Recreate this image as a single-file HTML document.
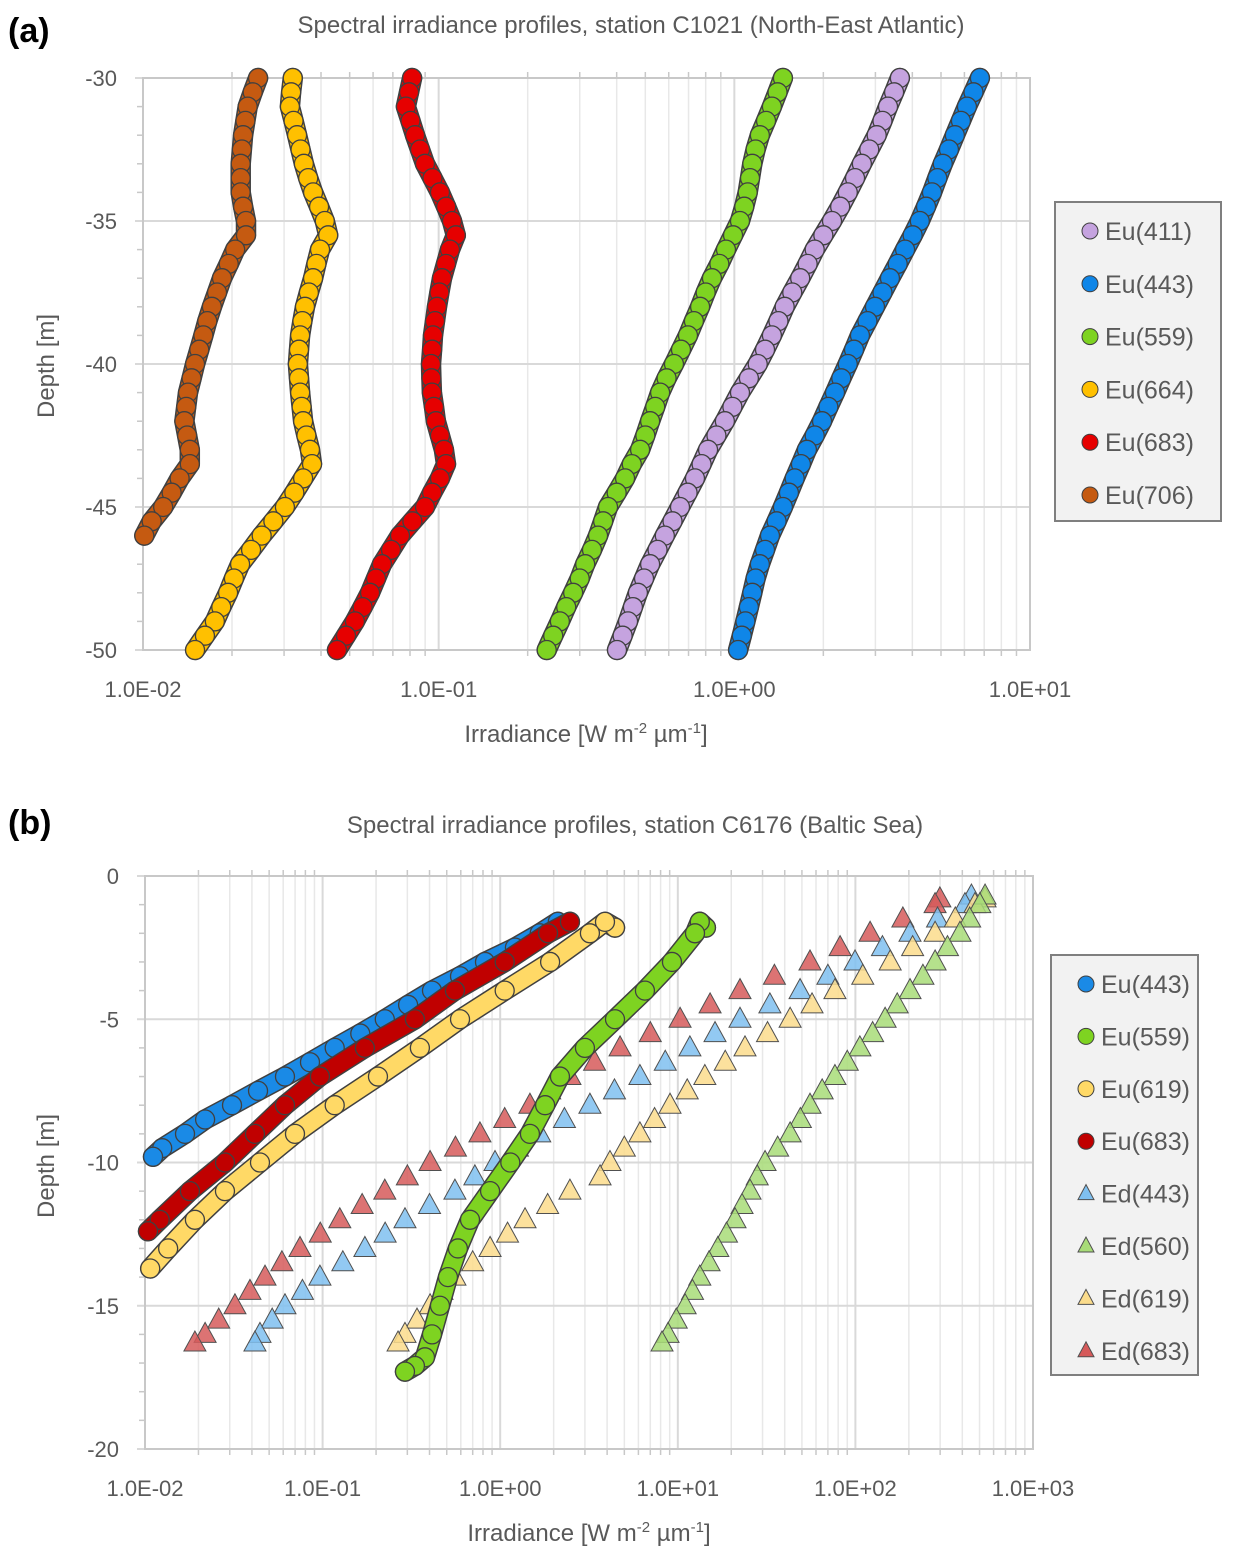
<!DOCTYPE html>
<html><head><meta charset="utf-8">
<style>
html,body{margin:0;padding:0;background:#fff;}
svg{display:block;font-family:"Liberation Sans","DejaVu Sans",sans-serif;}
</style></head>
<body>
<svg id="fig" width="1235" height="1561" viewBox="0 0 1235 1561" xmlns="http://www.w3.org/2000/svg">
<text x="8" y="42" font-size="34" font-weight="bold" fill="#000">(a)</text>
<text x="631" y="33" font-size="24" fill="#595959" text-anchor="middle">Spectral irradiance profiles, station C1021 (North-East Atlantic)</text>
<text x="586" y="742" font-size="24" fill="#595959" text-anchor="middle">Irradiance [W m<tspan font-size="15" dy="-9">-2</tspan><tspan dy="9"> µm</tspan><tspan font-size="15" dy="-9">-1</tspan><tspan dy="9">]</tspan></text>
<text transform="translate(54,366) rotate(-90)" font-size="24" fill="#595959" text-anchor="middle">Depth [m]</text>

<text x="8" y="834" font-size="34" font-weight="bold" fill="#000">(b)</text>
<text x="635" y="833" font-size="24" fill="#595959" text-anchor="middle">Spectral irradiance profiles, station C6176 (Baltic Sea)</text>
<text x="589" y="1541" font-size="24" fill="#595959" text-anchor="middle">Irradiance [W m<tspan font-size="15" dy="-9">-2</tspan><tspan dy="9"> µm</tspan><tspan font-size="15" dy="-9">-1</tspan><tspan dy="9">]</tspan></text>
<text transform="translate(54,1166) rotate(-90)" font-size="24" fill="#595959" text-anchor="middle">Depth [m]</text>

<g id="ga"></g>
<g id="gb"></g>
</svg>
<script>
// ---------- Chart (a) data ----------
const aDepths = [-30,-30.5,-31,-31.5,-32,-32.5,-33,-33.5,-34,-34.5,-35,-35.5,-36,-36.5,-37,-37.5,-38,-38.5,-39,-39.5,-40,-40.5,-41,-41.5,-42,-42.5,-43,-43.5,-44,-44.5,-45,-45.5,-46,-46.5,-47,-47.5,-48,-48.5,-49,-49.5,-50];
const aEu411 = [3.63,3.47,3.31,3.17,3.03,2.86,2.70,2.56,2.42,2.28,2.14,2.00,1.87,1.77,1.67,1.57,1.48,1.41,1.34,1.27,1.20,1.12,1.045,0.985,0.929,0.87,0.815,0.775,0.736,0.695,0.655,0.618,0.582,0.55,0.519,0.495,0.472,0.454,0.437,0.419,0.401];
const aEu443 = [6.77,6.44,6.12,5.84,5.57,5.32,5.07,4.86,4.66,4.45,4.24,4.01,3.78,3.57,3.36,3.17,2.99,2.82,2.66,2.54,2.42,2.30,2.19,2.08,1.98,1.87,1.76,1.68,1.60,1.53,1.46,1.39,1.32,1.27,1.22,1.18,1.15,1.12,1.09,1.06,1.03];
const aEu559 = [1.46,1.40,1.34,1.28,1.22,1.18,1.15,1.13,1.11,1.08,1.045,0.99,0.937,0.89,0.840,0.80,0.766,0.73,0.697,0.66,0.625,0.59,0.561,0.54,0.519,0.50,0.480,0.45,0.427,0.40,0.374,0.36,0.346,0.33,0.313,0.30,0.285,0.27,0.257,0.244,0.232];
const aEu664 = [0.0321,0.0317,0.0314,0.0323,0.0332,0.0341,0.0350,0.0362,0.0376,0.0394,0.0412,0.0423,0.0397,0.0386,0.0376,0.0364,0.0353,0.0346,0.0340,0.0337,0.0334,0.0337,0.0340,0.0344,0.0348,0.0357,0.0367,0.0373,0.0348,0.0325,0.0302,0.0276,0.0252,0.0232,0.0213,0.0203,0.0194,0.0184,0.0175,0.0162,0.0150];
const aEu683 = [0.0813,0.0794,0.0775,0.0803,0.0832,0.0865,0.0899,0.0953,0.1010,0.1060,0.1109,0.1143,0.1092,0.1059,0.1026,0.1006,0.0987,0.0972,0.0957,0.0950,0.0942,0.0945,0.0949,0.0964,0.0979,0.1010,0.1042,0.1059,0.1010,0.0950,0.0899,0.0815,0.0740,0.0690,0.0643,0.0614,0.0586,0.0553,0.0521,0.0486,0.0453];
const aEu706 = [0.0245,0.0235,0.0226,0.0222,0.0218,0.0216,0.0214,0.0214,0.0214,0.0218,0.0223,0.0223,0.0205,0.0195,0.0185,0.0178,0.0171,0.0165,0.0160,0.0155,0.0150,0.0146,0.0142,0.0140,0.0138,0.0141,0.0144,0.0144,0.0133,0.0125,0.0117,0.0107,0.0101];
const aXTicks = ["1.0E-02","1.0E-01","1.0E+00","1.0E+01"];
const aYTicks = [-30,-35,-40,-45,-50];

// ---------- Chart (b) data ----------
const bEu443D = [-1.6,-2,-2.5,-3,-3.5,-4,-4.5,-5,-5.5,-6,-6.5,-7,-7.5,-8,-8.5,-9,-9.5,-9.8];
const bEu443V = [2.11,1.67,1.21,0.821,0.594,0.413,0.303,0.224,0.163,0.117,0.0849,0.0614,0.0433,0.0309,0.0218,0.0168,0.0125,0.0111];
const bEu559D = [-1.8,-1.6,-2,-3,-4,-5,-6,-7,-8,-9,-10,-11,-12,-13,-14,-15,-16,-16.8,-17.1,-17.3];
const bEu559V = [14.4,13.3,12.5,9.27,6.53,4.43,3.00,2.17,1.79,1.47,1.14,0.877,0.676,0.578,0.508,0.458,0.413,0.377,0.331,0.291];
const bEu619D = [-1.8,-1.6,-2,-3,-4,-5,-6,-7,-8,-9,-10,-11,-12,-13,-13.7];
const bEu619V = [4.43,3.89,3.20,1.91,1.06,0.594,0.353,0.205,0.117,0.0699,0.0444,0.0282,0.0191,0.0135,0.0107];
const bEu683D = [-1.6,-2,-3,-4,-5,-6,-7,-8,-9,-10,-11,-12,-12.4];
const bEu683V = [2.47,1.86,1.06,0.556,0.331,0.173,0.0966,0.0614,0.0416,0.0282,0.0179,0.0121,0.0104];
const bEd443D = [-0.7,-1,-1.5,-2,-2.5,-3,-3.5,-4,-4.5,-5,-5.5,-6,-6.5,-7,-7.5,-8,-8.5,-9,-9.5,-10,-10.5,-11,-11.5,-12,-12.5,-13,-13.5,-14,-14.5,-15,-15.5,-16,-16.3];
const bEd443V = [450,414,290,203,142,99.5,70,48.8,33,22.4,16.2,11.7,8.5,6.12,4.4,3.20,2.3,1.67,1.25,0.935,0.72,0.556,0.40,0.291,0.225,0.173,0.13,0.0966,0.077,0.0614,0.052,0.0444,0.0416];
const bEd560D = [-0.7,-1,-1.5,-2,-2.5,-3,-3.5,-4,-4.5,-5,-5.5,-6,-6.5,-7,-7.5,-8,-8.5,-9,-9.5,-10,-10.5,-11,-11.5,-12,-12.5,-13,-13.5,-14,-14.5,-15,-15.5,-16,-16.3];
const bEd560V = [537,502,440,388,330,281,240,203,172,147,125,106,90,76.7,65,55.5,49,42.9,36.5,31.0,28,25.5,23,21.0,18.8,16.8,15,13.3,12.1,11.0,9.8,8.81,8.15];
const bEd619D = [-0.8,-1,-1.5,-2,-2.5,-3,-3.5,-4,-4.5,-5,-5.5,-6,-6.5,-7,-7.5,-8,-8.5,-9,-9.5,-10,-10.5,-11,-11.5,-12,-12.5,-13,-13.5,-14,-14.5,-15,-15.5,-16,-16.3];
const bEd619V = [537,471,365,281,210,157,110,76.7,57,42.9,32,23.9,18.5,14.2,11.3,9.04,7.4,6.12,5.0,4.15,3.65,2.47,1.85,1.38,1.1,0.877,0.70,0.556,0.47,0.403,0.34,0.291,0.266];
const bEd683D = [-0.8,-1,-1.5,-2,-2.5,-3,-3.5,-4,-4.5,-5,-5.5,-6,-6.5,-7,-7.5,-8,-8.5,-9,-9.5,-10,-10.5,-11,-11.5,-12,-12.5,-13,-13.5,-14,-14.5,-15,-15.5,-16,-16.3];
const bEd683V = [299,281,185,121,82,55.5,35,22.4,15.2,10.3,7.0,4.73,3.4,2.47,1.9,1.47,1.06,0.769,0.56,0.403,0.30,0.224,0.167,0.125,0.097,0.0746,0.059,0.0474,0.039,0.0321,0.026,0.0218,0.0191];
const bXTicks = ["1.0E-02","1.0E-01","1.0E+00","1.0E+01","1.0E+02","1.0E+03"];
const bYTicks = [0,-5,-10,-15,-20];

const NS = "http://www.w3.org/2000/svg";
function mk(parent, tag, attrs){
  const e = document.createElementNS(NS, tag);
  for (const k in attrs) e.setAttribute(k, attrs[k]);
  parent.appendChild(e);
  return e;
}

function axes(g, cfg){
  const xs = v => cfg.x0 + (Math.log10(v) - cfg.lmin) * (cfg.x1 - cfg.x0) / (cfg.lmax - cfg.lmin);
  const ys = d => cfg.y0 + (d - cfg.dtop) * (cfg.y1 - cfg.y0) / (cfg.dbot - cfg.dtop);
  for (let p = cfg.lmin; p < cfg.lmax; p++){
    for (let m = 2; m <= 9; m++){
      const x = xs(m * Math.pow(10, p));
      const l = mk(g, 'line', {x1:x, x2:x, y1:cfg.y0, y2:cfg.y1, stroke:'#e8e8e8', 'stroke-width':1.5});
      
      
      const t = mk(g, 'line', {x1:x, x2:x, y1:cfg.y1, y2:cfg.y1+6, stroke:'#c8c8c8', 'stroke-width':1.5});
      
      
      const t2 = mk(g, 'line', {x1:x, x2:x, y1:cfg.y0, y2:cfg.y0-6, stroke:'#c8c8c8', 'stroke-width':1.5});
      
      
    }
  }
  for (let d = cfg.dtop; d >= cfg.dbot; d--){
    const y = ys(d);
    const t = mk(g, 'line', {x1:cfg.x0-6, x2:cfg.x0, y1:y, y2:y, stroke:'#c8c8c8', 'stroke-width':1.5});
    
    
  }
  cfg.xt.forEach((lab, i) => {
    const x = xs(Math.pow(10, cfg.lmin + i));
    const l = mk(g, 'line', {x1:x, x2:x, y1:cfg.y0, y2:cfg.y1, stroke:'#d9d9d9', 'stroke-width':2});
    
    
    const t = mk(g, 'text', {x:x, y:cfg.y1+47, 'font-size':22, fill:'#595959', 'text-anchor':'middle'});
    t.textContent = lab;
    
    
  });
  cfg.yt.forEach(d => {
    const y = ys(d);
    const l = mk(g, 'line', {x1:cfg.x0-8, x2:cfg.x1, y1:y, y2:y, stroke:'#d9d9d9', 'stroke-width':2});
    
    
    const t = mk(g, 'text', {x:cfg.x0-26, y:y+8, 'font-size':22, fill:'#595959', 'text-anchor':'end'});
    t.textContent = String(d);
    
    
  });
  const fr = mk(g, 'rect', {x:cfg.x0, y:cfg.y0, width:cfg.x1-cfg.x0, height:cfg.y1-cfg.y0, fill:'none', stroke:'#c8c8c8', 'stroke-width':2});
  
  
  return {xs, ys};
}

function circles(g, sc, D, V, color, name, r, band){
  const n = Math.min(D.length, V.length);
  const s = mk(g, 'g', {});
  
  
  if (band){
    let pts = [];
    for (let i = 0; i < n; i++) pts.push(sc.xs(V[i]).toFixed(1) + ',' + sc.ys(D[i]).toFixed(1));
    const b1 = mk(s, 'polyline', {points:pts.join(' '), fill:'none', stroke:'#404040', 'stroke-width':2*r+1.5, 'stroke-linejoin':'round', 'stroke-linecap':'round'});
    
    
    const b2 = mk(s, 'polyline', {points:pts.join(' '), fill:'none', stroke:color, 'stroke-width':2*r-1.5, 'stroke-linejoin':'round', 'stroke-linecap':'round'});
    
    
  }
  for (let i = 0; i < n; i++){
    const c = mk(s, 'circle', {cx:sc.xs(V[i]), cy:sc.ys(D[i]), r:r, fill:color, stroke:'#404040', 'stroke-width':1.3});
    
    
  }
}
function triangles(g, sc, D, V, color, name){
  const s = mk(g, 'g', {});
  
  
  for (let i = 0; i < Math.min(D.length, V.length); i++){
    const x = sc.xs(V[i]), y = sc.ys(D[i]);
    const p = mk(s, 'polygon', {points:`${x},${y-12} ${x-11},${y+8} ${x+11},${y+8}`, fill:color, 'fill-opacity':0.85, stroke:'#505050', 'stroke-width':1});
    
    
  }
}
function legend(g, x, y, w, h, entries, step, name){
  const lg = mk(g, 'g', {});
  
  
  const r = mk(lg, 'rect', {x:x, y:y, width:w, height:h, fill:'#f2f2f2', stroke:'#7f7f7f', 'stroke-width':2});
  
  
  entries.forEach((e, i) => {
    const cy = y + 29 + i * step, cx = x + 35;
    const eg = mk(lg, 'g', {});
    
    
    if (e.tri){
      const p = mk(eg, 'polygon', {points:`${cx},${cy-9} ${cx-8},${cy+6} ${cx+8},${cy+6}`, fill:e.c, stroke:'#505050', 'stroke-width':1});
      
      
    } else {
      const c = mk(eg, 'circle', {cx:cx, cy:cy, r:8, fill:e.c, stroke:'#404040', 'stroke-width':1});
      
      
    }
    const t = mk(eg, 'text', {x:cx+15, y:cy+9, 'font-size':25, fill:'#595959'});
    t.textContent = e.t;
    
    
  });
}

// Chart a
const ga = document.getElementById('ga');
const sa = axes(ga, {x0:143, x1:1030, y0:78, y1:650, lmin:-2, lmax:1, dtop:-30, dbot:-50, xt:aXTicks, yt:aYTicks});
circles(ga, sa, aDepths, aEu706, '#c55a11', 'series-eu706', 9.5, true);
circles(ga, sa, aDepths, aEu664, '#ffc000', 'series-eu664', 9.5, true);
circles(ga, sa, aDepths, aEu683, '#e60000', 'series-eu683', 9.5, true);
circles(ga, sa, aDepths, aEu559, '#7ed321', 'series-eu559', 9.5, true);
circles(ga, sa, aDepths, aEu411, '#c5a3df', 'series-eu411', 9.5, true);
circles(ga, sa, aDepths, aEu443, '#0f86e8', 'series-eu443', 9.5, true);
legend(ga, 1055, 202, 166, 319, [
  {t:'Eu(411)', c:'#c5a3df'},{t:'Eu(443)', c:'#0f86e8'},{t:'Eu(559)', c:'#7ed321'},
  {t:'Eu(664)', c:'#ffc000'},{t:'Eu(683)', c:'#e60000'},{t:'Eu(706)', c:'#c55a11'}], 52.8, 'legend-a');

// Chart b
const gb = document.getElementById('gb');
const sb = axes(gb, {x0:145, x1:1033, y0:876, y1:1449, lmin:-2, lmax:3, dtop:0, dbot:-20, xt:bXTicks, yt:bYTicks});
triangles(gb, sb, bEd683D, bEd683V, '#d65a5a', 'series-ed683');
triangles(gb, sb, bEd443D, bEd443V, '#7fc0f0', 'series-ed443');
triangles(gb, sb, bEd619D, bEd619V, '#fbdc8c', 'series-ed619');
triangles(gb, sb, bEd560D, bEd560V, '#a8dc78', 'series-ed560');
circles(gb, sb, bEu443D, bEu443V, '#1a8ae6', 'series-eu443', 9.5, true);
circles(gb, sb, bEu619D, bEu619V, '#ffd966', 'series-eu619', 9.5, true);
circles(gb, sb, bEu683D, bEu683V, '#c00000', 'series-eu683', 9.5, true);
circles(gb, sb, bEu559D, bEu559V, '#7ed321', 'series-eu559', 9.5, true);
legend(gb, 1051, 955, 147, 420, [
  {t:'Eu(443)', c:'#1a8ae6'},{t:'Eu(559)', c:'#7ed321'},{t:'Eu(619)', c:'#ffd966'},{t:'Eu(683)', c:'#c00000'},
  {t:'Ed(443)', c:'#7fc0f0', tri:true},{t:'Ed(560)', c:'#a8dc78', tri:true},{t:'Ed(619)', c:'#fbdc8c', tri:true},{t:'Ed(683)', c:'#d65a5a', tri:true}], 52.4, 'legend-b');
</script>
</body></html>
